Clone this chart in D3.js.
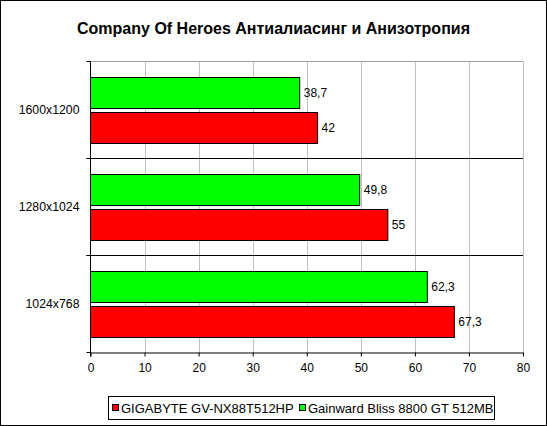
<!DOCTYPE html>
<html><head><meta charset="utf-8">
<script src="https://cdn.jsdelivr.net/npm/d3@7"></script>
<style>body{margin:0;background:#fff}svg{display:block}text{font-family:Arial,"Liberation Sans",sans-serif}</style>
</head><body><svg id="c" width="547" height="426"></svg>
<script>
const title = "Company Of Heroes Антиалиасинг и Анизотропия";
const categories = ["1600x1200", "1280x1024", "1024x768"];
const seriesNames = ["GIGABYTE GV-NX88T512HP", "Gainward Bliss 8800 GT 512MB"];
const gigabyte = [42, 55, 67.3];
const gainward = [38.7, 49.8, 62.3];
const xTicks = [0, 10, 20, 30, 40, 50, 60, 70, 80];
const colors = ["#ff0000", "#00ff00"];

const svg = d3.select("#c");
svg.append("rect").attr("x", 0.5).attr("y", 0.5).attr("width", 546).attr("height", 425)
  .attr("fill", "#fff").attr("stroke", "#000");

const L = 90.5, R = 523, T = 61.5, B = 352.5;
const x = d3.scaleLinear().domain([0, 80]).range([L, R]);
const y = d3.scaleBand().domain(categories).range([T, B]);

svg.append("text").attr("x", 273.5).attr("y", 34).attr("text-anchor", "middle")
  .attr("font-size", 16).attr("font-weight", "bold").text(title);

const g = svg.append("g");
g.selectAll(".grid").data(xTicks.slice(1)).enter().append("line")
  .attr("x1", d => Math.round(x(d)) + 0.5).attr("x2", d => Math.round(x(d)) + 0.5)
  .attr("y1", T).attr("y2", B).attr("stroke", "#c0c0c0");
g.append("line").attr("x1", L).attr("x2", R).attr("y1", T).attr("y2", T).attr("stroke", "#a0a0a0");
g.selectAll(".sep").data(categories.slice(1)).enter().append("line")
  .attr("x1", L - 4).attr("x2", R).attr("y1", d => y(d)).attr("y2", d => y(d)).attr("stroke", "#000");

const data = categories.map((c, i) => ({c, vals: [gainward[i], gigabyte[i]]}));
const inner = d3.scaleBand().domain([0, 1]).range([15.5, y.bandwidth() - 15.5]).paddingInner(0.14);
data.forEach(d => {
  d.vals.forEach((v, k) => {
    const col = k === 0 ? colors[1] : colors[0];
    const yy = y(d.c) + inner(k);
    g.append("rect").attr("x", x(0)).attr("y", Math.round(yy) + 0.5)
      .attr("width", x(v) - x(0)).attr("height", Math.round(inner.bandwidth()))
      .attr("fill", col).attr("stroke", "#000");
    g.append("text").attr("x", x(v) + 4).attr("y", yy + inner.bandwidth() / 2 + 4.5)
      .attr("font-size", 12).text(String(v).replace(".", ","));
  });
});

const xa = svg.append("g").attr("transform", `translate(0,${B})`)
  .call(d3.axisBottom(x).tickValues(xTicks).tickSize(4).tickPadding(7).tickSizeOuter(0));
xa.select(".domain").attr("stroke", "#000");
xa.selectAll("text").attr("font-size", 12).attr("font-family", "Arial,'Liberation Sans',sans-serif");
const ya = svg.append("g").attr("transform", `translate(${L},0)`);
ya.append("line").attr("x1", 0).attr("x2", 0).attr("y1", T).attr("y2", B + 4).attr("stroke", "#000");
ya.selectAll(".t").data([T, ...categories.slice(1).map(c => y(c)), B]).enter().append("line")
  .attr("x1", -4).attr("x2", 0).attr("y1", d => d).attr("y2", d => d).attr("stroke", "#000");
ya.selectAll(".l").data(categories).enter().append("text")
  .attr("x", -11).attr("y", d => y(d) + y.bandwidth() / 2 + 4).attr("text-anchor", "end")
  .attr("font-size", 12.3).text(d => d);

const lg = svg.append("g");
lg.append("rect").attr("x", 108.5).attr("y", 396.5).attr("width", 386).attr("height", 23)
  .attr("fill", "#fff").attr("stroke", "#000");
const lx = [112, 299];
seriesNames.forEach((n, i) => {
  lg.append("rect").attr("x", lx[i] + 0.5).attr("y", 404.5).attr("width", 6).attr("height", 6)
    .attr("fill", colors[i]).attr("stroke", "#000");
  lg.append("text").attr("x", lx[i] + 9).attr("y", 412.5).attr("font-size", 13).text(n);
});
</script></body></html>
